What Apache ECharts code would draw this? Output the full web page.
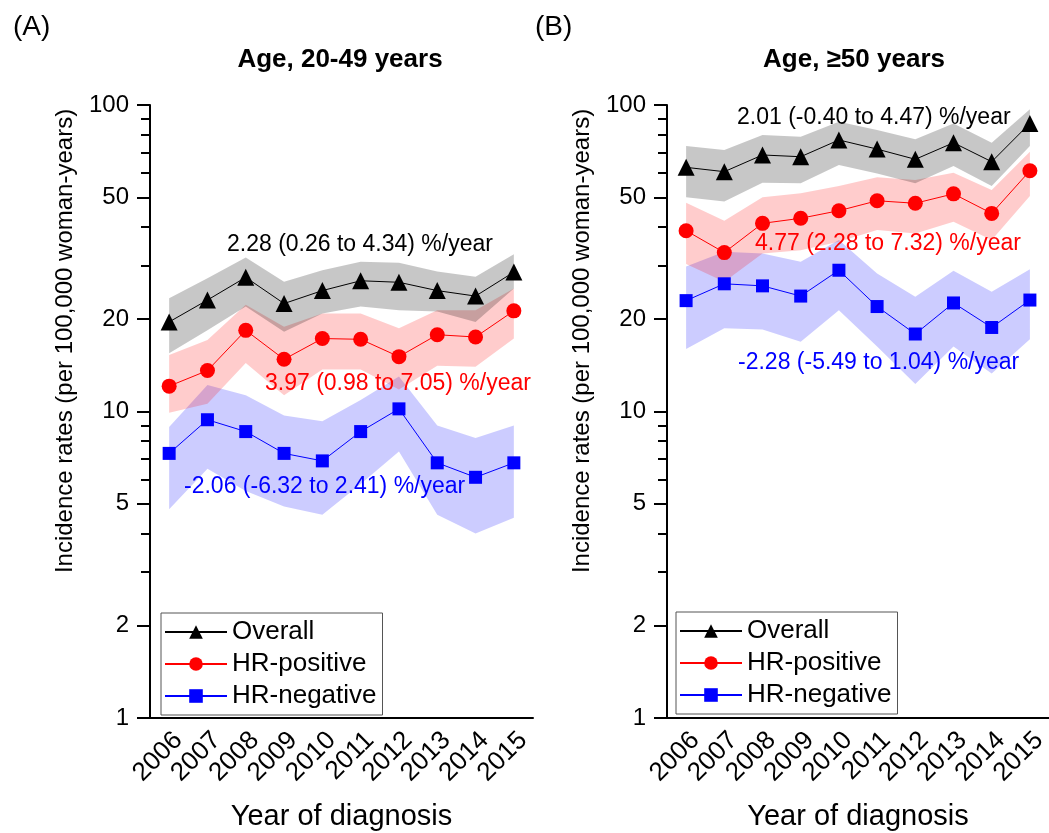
<!DOCTYPE html>
<html>
<head>
<meta charset="utf-8">
<script src="https://cdn.jsdelivr.net/npm/echarts@6/dist/echarts.min.js"></script>
<style>
  html, body { margin: 0; padding: 0; background: #fff; }
  #chart { width: 1049px; height: 833px; }
</style>
</head>
<body>
<div id="chart"></div>
<script>
// years on x axis
const years = ['2006', '2007', '2008', '2009', '2010', '2011', '2012', '2013', '2014', '2015'];

// (A) age 20-49
const overallA   = [19.6, 23.1, 27.4, 22.5, 24.8, 26.7, 26.4, 24.8, 23.8, 28.5];
const overallAUp = [23.4, 27.2, 31.8, 26.5, 28.9, 30.8, 30.6, 28.6, 27.5, 32.6];
const overallALo = [15.5, 18.4, 22.0, 18.2, 20.9, 22.0, 21.4, 21.2, 19.6, 25.2];
const posA   = [12.1, 13.6, 18.4, 14.8, 17.3, 17.2, 15.1, 17.8, 17.5, 21.3];
const posAUp = [15.3, 17.1, 22.3, 18.9, 20.9, 20.9, 18.7, 21.4, 21.4, 25.2];
const posALo = [9.9, 10.6, 14.4, 11.3, 13.7, 13.7, 11.8, 14.1, 14.0, 17.3];
const negA   = [7.3, 9.4, 8.6, 7.3, 6.9, 8.6, 10.2, 6.8, 6.1, 6.8];
const negAUp = [8.9, 12.2, 11.3, 9.7, 9.3, 10.9, 13.0, 9.0, 8.2, 9.0];
const negALo = [4.8, 6.5, 5.5, 4.9, 4.6, 5.8, 7.4, 4.6, 4.0, 4.5];

// (B) age >= 50
const overallB   = [62.6, 60.6, 68.7, 67.8, 76.9, 71.8, 66.5, 75.3, 65.3, 87.1];
const overallBUp = [73.5, 71.3, 79.8, 78.8, 88.2, 82.8, 77.3, 87.1, 75.3, 96.8];
const overallBLo = [50.0, 48.4, 55.8, 55.5, 63.7, 59.8, 55.5, 63.2, 54.4, 73.5];
const posB   = [38.9, 33.0, 41.1, 42.7, 45.2, 48.7, 47.8, 51.3, 44.3, 61.0];
const posBUp = [48.0, 41.9, 50.0, 51.5, 54.4, 58.1, 56.9, 60.1, 52.8, 70.4];
const posBLo = [30.3, 26.5, 32.8, 33.6, 35.8, 39.1, 38.1, 41.6, 36.3, 50.5];
const negB   = [23.0, 26.1, 25.7, 23.8, 28.9, 22.0, 17.9, 22.6, 18.8, 23.1];
const negBUp = [29.7, 33.2, 32.8, 30.8, 36.3, 28.2, 23.7, 28.8, 24.6, 29.1];
const negBLo = [16.0, 18.7, 18.5, 16.9, 21.4, 16.3, 12.3, 16.3, 13.3, 17.2];

// y tick labels (log scale)
const yLabelValues = [1, 2, 5, 10, 20, 50, 100];
const yMinorValues = [3, 4, 6, 7, 8, 9, 30, 40, 60, 70, 80, 90];

const FONT = 'Liberation Sans, Arial, sans-serif';
const yTitle = 'Incidence rates (per 100,000 woman-years)';
const lg = v => Math.log10(v);

function yAxes(gridIndex) {
  return [
    {
      type: 'value', gridIndex: gridIndex, position: 'left', min: 0, max: 2,
      axisLine: { show: true, lineStyle: { color: '#000', width: 2 } },
      axisTick: { show: true, length: 13, lineStyle: { color: '#000', width: 2 },
        customValues: yLabelValues.map(lg) },
      axisLabel: { show: true, fontSize: 24, color: '#000', fontFamily: FONT, margin: 21,
        customValues: yLabelValues.map(lg),
        formatter: v => String(Math.round(Math.pow(10, v))) },
      splitLine: { show: false }
    },
    {
      type: 'value', gridIndex: gridIndex, position: 'left', min: 0, max: 2,
      axisLine: { show: false },
      axisTick: { show: true, length: 9, lineStyle: { color: '#000', width: 2 },
        customValues: yMinorValues.map(lg) },
      axisLabel: { show: false },
      splitLine: { show: false }
    }
  ];
}

function xAxis(gridIndex) {
  return {
    type: 'category', gridIndex: gridIndex, data: years, boundaryGap: true,
    name: 'Year of diagnosis', nameLocation: 'middle', nameGap: 84,
    nameTextStyle: { fontSize: 29, color: '#000', fontFamily: FONT },
    axisLine: { lineStyle: { color: '#000', width: 2 } },
    axisTick: { alignWithLabel: true, length: 11, lineStyle: { color: '#000', width: 2 } },
    axisLabel: { rotate: 45, fontSize: 26, color: '#000', fontFamily: FONT, margin: 9,
      interval: 0, verticalAlign: 'top' },
    splitLine: { show: false }
  };
}

function band(xi, yi, lo, up, color, key) {
  return [
    {
      name: key + '-lo', type: 'line', xAxisIndex: xi, yAxisIndex: yi, stack: key,
      data: lo.map(lg), symbol: 'none', silent: true, z: 1,
      lineStyle: { opacity: 0 }
    },
    {
      name: key + '-up', type: 'line', xAxisIndex: xi, yAxisIndex: yi, stack: key,
      data: up.map((v, i) => lg(v) - lg(lo[i])), symbol: 'none', silent: true, z: 1,
      lineStyle: { opacity: 0 }, areaStyle: { color: color, opacity: 1 }
    }
  ];
}

function line(xi, yi, name, vals, color, symbol, size) {
  return {
    name: name, type: 'line', xAxisIndex: xi, yAxisIndex: yi, z: 3,
    data: vals.map(lg), symbol: symbol, symbolSize: size,
    lineStyle: { color: color, width: 1 },
    itemStyle: { color: color, opacity: 1 }
  };
}

const grayBand = 'rgba(0,0,0,0.22)';
const redBand = 'rgba(255,0,0,0.2)';
const blueBand = 'rgba(0,0,255,0.2)';

const series = [].concat(
  band(0, 0, negALo, negAUp, blueBand, 'negA'),
  band(0, 0, posALo, posAUp, redBand, 'posA'),
  band(0, 0, overallALo, overallAUp, grayBand, 'allA'),
  [
    line(0, 0, 'Overall', overallA, '#000', 'triangle', 17),
    line(0, 0, 'HR-positive', posA, '#ff0000', 'circle', 15),
    line(0, 0, 'HR-negative', negA, '#0000ff', 'rect', 13)
  ],
  band(1, 2, negBLo, negBUp, blueBand, 'negB'),
  band(1, 2, posBLo, posBUp, redBand, 'posB'),
  band(1, 2, overallBLo, overallBUp, grayBand, 'allB'),
  [
    line(1, 2, 'Overall', overallB, '#000', 'triangle', 17),
    line(1, 2, 'HR-positive', posB, '#ff0000', 'circle', 15),
    line(1, 2, 'HR-negative', negB, '#0000ff', 'rect', 13)
  ]
);

function legend(left, top) {
  return {
    left: left, top: top, orient: 'vertical', selectedMode: false,
    data: ['Overall', 'HR-positive', 'HR-negative'],
    itemWidth: 62, itemHeight: 17, itemGap: 6,
    padding: [6, 6, 6, 3],
    borderColor: '#555', borderWidth: 1, borderRadius: 0,
    textStyle: { fontSize: 26, color: '#000', fontFamily: FONT }
  };
}

function txt(x, y, s, color, size, weight, align, rot) {
  return {
    type: 'text', x: x, y: y, z: 10, rotation: rot || 0,
    style: { text: s, fill: color, fontSize: size, fontWeight: weight || 'normal',
      fontFamily: FONT, textAlign: align || 'left', textVerticalAlign: 'middle' }
  };
}

const chart = echarts.init(document.getElementById('chart'), null, { renderer: 'canvas' });
chart.setOption({
  backgroundColor: '#fff',
  animation: false,
  grid: [
    { left: 150, top: 105, width: 383, height: 613, outerBoundsMode: 'none', containLabel: false },
    { left: 667, top: 105, width: 382, height: 613, outerBoundsMode: 'none', containLabel: false }
  ],
  xAxis: [xAxis(0), xAxis(1)],
  yAxis: [].concat(yAxes(0), yAxes(1)),
  legend: [legend(161, 613), legend(676, 612)],
  series: series,
  graphic: [
    txt(13, 27, '(A)', '#000', 28),
    txt(535, 27, '(B)', '#000', 28),
    txt(340, 60, 'Age, 20-49 years', '#000', 26, 'bold', 'center'),
    txt(854, 60, 'Age, \u226550 years', '#000', 26, 'bold', 'center'),
    txt(65, 341, yTitle, '#000', 24, 'normal', 'center', Math.PI / 2),
    txt(582, 341, yTitle, '#000', 24, 'normal', 'center', Math.PI / 2),
    txt(227, 245, '2.28 (0.26 to 4.34) %/year', '#000', 23),
    txt(265, 384, '3.97 (0.98 to 7.05) %/year', '#ff0000', 23),
    txt(184, 487, '-2.06 (-6.32 to 2.41) %/year', '#0000ff', 23),
    txt(737, 118, '2.01 (-0.40 to 4.47) %/year', '#000', 23),
    txt(755, 244, '4.77 (2.28 to 7.32) %/year', '#ff0000', 23),
    txt(738, 363, '-2.28 (-5.49 to 1.04) %/year', '#0000ff', 23)
  ]
});
</script>
</body>
</html>
